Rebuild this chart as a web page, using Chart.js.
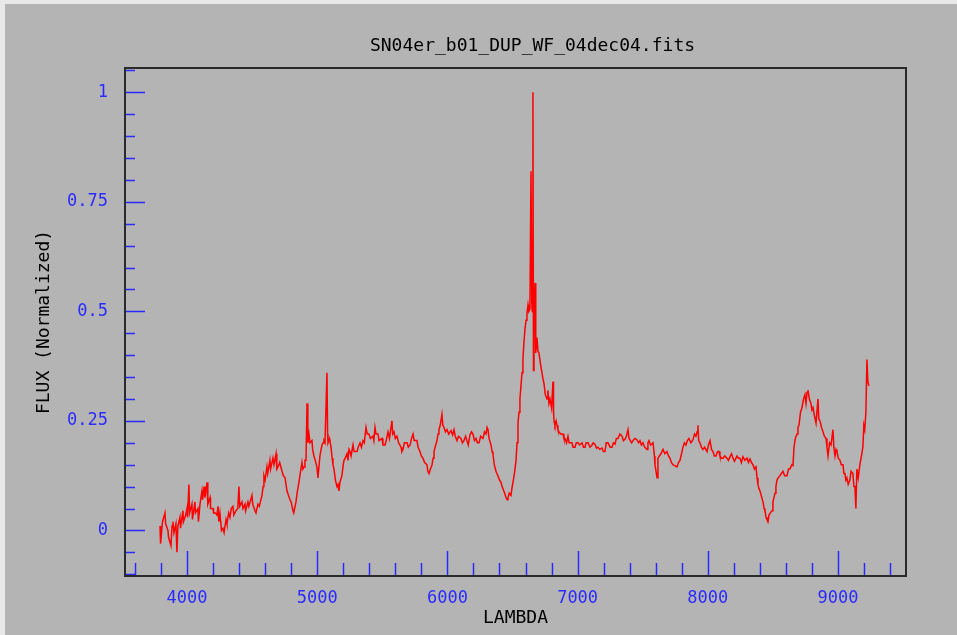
<!DOCTYPE html>
<html>
<head>
<meta charset="utf-8">
<script src="https://cdn.jsdelivr.net/npm/chart.js@4.4.1/dist/chart.umd.min.js"></script>
<style>
  html, body { margin: 0; padding: 0; background: #e8e8e8; overflow: hidden; }
  #panel { position: absolute; left: 5px; top: 4px; width: 952px; height: 631px; background: #b4b4b4; }
  canvas { display: block; }
</style>
</head>
<body>
<div id="panel"><canvas id="spec" width="952" height="631"></canvas></div>
<script>
// Spectrum: wavelength (Angstrom) and normalized flux
const wavelength = [
  3793,3797,3812,3831,3836,3854,3858,3877,3885,3892,3900,3915,3923,3930,3946,3950,3969,3973,3990,4000,
  4004,4015,4020,4038,4042,4061,4065,4084,4088,4100,4115,4120,4131,4138,4154,4160,4177,4181,4200,4204,
  4218,4230,4238,4245,4253,4265,4276,4285,4300,4307,4320,4330,4340,4353,4360,4376,4390,4399,4405,4422,
  4430,4445,4450,4468,4475,4499,4505,4522,4530,4545,4555,4576,4585,4591,4600,4614,4620,4637,4642,4660,
  4668,4684,4690,4699,4712,4730,4740,4753,4768,4780,4791,4800,4814,4820,4837,4848,4860,4870,4883,4890,
  4899,4906,4914,4922,4928,4937,4945,4960,4965,4975,4985,4998,5006,5012,5021,5030,5037,5045,5052,5060,
  5075,5080,5083,5095,5106,5115,5121,5129,5140,5152,5160,5167,5175,5190,5200,5206,5215,5229,5236,5244,
  5252,5260,5275,5283,5306,5315,5329,5340,5352,5362,5375,5385,5398,5408,5428,5435,5444,5452,5467,5475,
  5498,5505,5521,5530,5544,5555,5574,5580,5590,5600,5613,5625,5644,5650,5659,5670,5690,5700,5713,5725,
  5736,5745,5766,5775,5789,5800,5812,5825,5843,5850,5859,5870,5882,5890,5897,5910,5920,5928,5935,5945,
  5958,5965,5974,5985,5997,6010,6028,6040,6051,6060,6074,6085,6104,6115,6127,6140,6150,6160,6173,6185,
  6196,6208,6220,6230,6243,6255,6273,6285,6296,6305,6312,6320,6335,6343,6350,6360,6373,6380,6388,6400,
  6412,6420,6427,6440,6450,6458,6465,6475,6488,6495,6504,6515,6527,6535,6542,6550,6557,6565,6573,6580,
  6588,6596,6604,6611,6619,6625,6634,6642,6648,6652,6657,6661,6665,6673,6677,6680,6688,6695,6703,6715,
  6726,6735,6742,6752,6765,6772,6780,6788,6800,6811,6815,6819,6826,6835,6842,6849,6857,6870,6888,6895,
  6903,6915,6926,6935,6941,6957,6965,6980,6990,7003,7015,7034,7045,7057,7065,7080,7095,7110,7120,7133,
  7145,7156,7170,7187,7198,7210,7220,7233,7250,7264,7275,7287,7298,7310,7325,7341,7352,7364,7375,7387,
  7395,7402,7415,7425,7440,7456,7468,7479,7490,7502,7515,7533,7540,7548,7560,7579,7590,7594,7605,7610,
  7617,7628,7640,7648,7656,7670,7686,7698,7709,7720,7732,7745,7763,7775,7786,7798,7809,7820,7832,7843,
  7855,7870,7886,7898,7909,7918,7924,7930,7940,7950,7963,7975,7994,8005,8017,8028,8040,8050,8063,8075,
  8086,8093,8105,8116,8130,8147,8158,8170,8182,8193,8205,8224,8235,8247,8258,8270,8285,8301,8312,8324,
  8335,8347,8358,8370,8378,8385,8393,8401,8410,8424,8432,8439,8447,8454,8462,8470,8480,8493,8500,8508,
  8516,8523,8531,8540,8554,8565,8577,8590,8608,8620,8631,8645,8654,8662,8672,8685,8692,8700,8712,8723,
  8735,8746,8754,8762,8769,8780,8792,8800,8808,8820,8831,8846,8852,8862,8873,8885,8895,8908,8915,8923,
  8935,8946,8961,8968,8977,8985,8992,9002,9015,9025,9038,9045,9053,9060,9068,9078,9091,9100,9114,9122,
  9130,9137,9145,9155,9168,9180,9191,9198,9205,9214,9222,9229,9237
];
const flux = [
  0.010,-0.030,0.020,0.040,0.015,0.000,-0.015,-0.035,0.010,0.020,-0.005,0.015,-0.050,0.010,0.030,0.005,0.045,0.020,0.035,0.050,
  0.030,0.105,0.040,0.060,0.025,0.065,0.040,0.050,0.020,0.060,0.090,0.070,0.100,0.075,0.110,0.060,0.075,0.050,0.050,0.040,
  0.040,0.035,0.055,0.020,0.040,0.000,0.005,-0.005,0.025,0.015,0.040,0.030,0.050,0.055,0.035,0.045,0.050,0.100,0.055,0.065,
  0.050,0.060,0.045,0.065,0.055,0.080,0.060,0.045,0.040,0.060,0.055,0.080,0.100,0.125,0.115,0.145,0.130,0.160,0.140,0.165,
  0.150,0.175,0.140,0.145,0.155,0.135,0.125,0.120,0.090,0.080,0.070,0.065,0.045,0.040,0.065,0.090,0.110,0.130,0.155,0.140,
  0.145,0.160,0.160,0.290,0.200,0.220,0.200,0.205,0.185,0.170,0.160,0.145,0.120,0.140,0.170,0.185,0.195,0.200,0.205,0.200,
  0.360,0.220,0.200,0.210,0.190,0.165,0.150,0.140,0.115,0.100,0.105,0.090,0.110,0.125,0.150,0.160,0.165,0.175,0.160,0.185,
  0.180,0.170,0.195,0.180,0.180,0.190,0.200,0.190,0.205,0.200,0.235,0.220,0.220,0.210,0.215,0.205,0.235,0.220,0.220,0.205,
  0.210,0.195,0.195,0.205,0.225,0.210,0.250,0.220,0.225,0.210,0.215,0.200,0.190,0.180,0.185,0.200,0.200,0.190,0.195,0.210,
  0.220,0.205,0.205,0.190,0.180,0.170,0.165,0.155,0.150,0.135,0.130,0.140,0.150,0.165,0.180,0.195,0.205,0.220,0.230,0.240,
  0.265,0.240,0.235,0.225,0.230,0.220,0.228,0.218,0.230,0.215,0.205,0.215,0.210,0.200,0.205,0.215,0.205,0.195,0.218,0.225,
  0.220,0.205,0.210,0.200,0.200,0.215,0.210,0.225,0.220,0.235,0.230,0.210,0.195,0.180,0.175,0.150,0.135,0.130,0.125,0.115,
  0.110,0.100,0.100,0.085,0.075,0.070,0.075,0.085,0.080,0.095,0.110,0.130,0.160,0.200,0.245,0.270,0.300,0.330,0.360,0.390,
  0.430,0.460,0.480,0.495,0.515,0.500,0.505,0.820,0.520,0.500,1.000,0.365,0.495,0.565,0.420,0.405,0.440,0.410,0.405,0.380,
  0.360,0.345,0.335,0.310,0.300,0.320,0.290,0.300,0.280,0.340,0.270,0.250,0.240,0.250,0.240,0.230,0.225,0.220,0.220,0.210,
  0.210,0.200,0.215,0.200,0.200,0.200,0.190,0.190,0.200,0.200,0.195,0.200,0.190,0.190,0.200,0.200,0.190,0.195,0.200,0.197,
  0.188,0.190,0.185,0.188,0.180,0.180,0.200,0.200,0.190,0.190,0.200,0.197,0.210,0.210,0.220,0.215,0.205,0.208,0.215,0.230,
  0.210,0.210,0.200,0.205,0.210,0.207,0.200,0.205,0.195,0.200,0.190,0.185,0.200,0.205,0.195,0.200,0.170,0.150,0.130,0.120,
  0.165,0.170,0.175,0.180,0.185,0.175,0.180,0.170,0.165,0.155,0.150,0.148,0.145,0.155,0.160,0.175,0.190,0.200,0.195,0.205,
  0.210,0.200,0.207,0.220,0.215,0.225,0.240,0.205,0.200,0.190,0.185,0.190,0.180,0.195,0.205,0.185,0.180,0.170,0.170,0.180,
  0.180,0.170,0.165,0.165,0.170,0.165,0.160,0.168,0.175,0.165,0.158,0.170,0.165,0.165,0.155,0.168,0.160,0.165,0.155,0.163,
  0.155,0.150,0.140,0.145,0.120,0.105,0.095,0.090,0.080,0.065,0.050,0.045,0.030,0.025,0.020,0.035,0.040,0.045,0.065,0.075,
  0.085,0.100,0.115,0.120,0.125,0.130,0.135,0.125,0.125,0.140,0.140,0.150,0.148,0.190,0.210,0.220,0.235,0.240,0.270,0.280,
  0.300,0.310,0.290,0.315,0.320,0.300,0.290,0.275,0.280,0.260,0.245,0.300,0.255,0.250,0.235,0.225,0.215,0.210,0.190,0.170,
  0.200,0.195,0.230,0.190,0.170,0.185,0.180,0.165,0.160,0.150,0.150,0.130,0.130,0.115,0.120,0.105,0.115,0.135,0.130,0.100,
  0.100,0.050,0.140,0.120,0.150,0.170,0.190,0.240,0.230,0.270,0.390,0.340,0.330
];

// Axis ranges and tick labels
const xRange = [3524, 9522];
const yRange = [-0.104, 1.0555];
const xTickValues = [4000, 5000, 6000, 7000, 8000, 9000];
const yTickValues = [0, 0.25, 0.5, 0.75, 1];
const yTickLabels = ['0', '0.25', '0.5', '0.75', '1'];
const xMinorStep = 200;
const yMinorStep = 0.05;

const chartTitle = 'SN04er_b01_DUP_WF_04dec04.fits';
const xTitle = 'LAMBDA';
const yTitle = 'FLUX (Normalized)';

const MONO = '"DejaVu Sans Mono", "Liberation Mono", monospace';
const TICK_BLUE = '#2b2bff';

// Inward tick marks (major + minor) along the left and bottom axes,
// the closed frame around the plot area, and the file-name title
const frameAndTicks = {
  id: 'frameAndTicks',
  beforeDatasetsDraw(chart) {
    const { ctx, chartArea: a, scales: { x, y } } = chart;
    ctx.save();
    ctx.strokeStyle = TICK_BLUE;
    ctx.lineWidth = 1.5;
    ctx.beginPath();
    for (let v = -0.1; v <= yRange[1] + 1e-9; v += yMinorStep) {
      const vv = Math.round(v * 100) / 100;
      const isMajor = yTickValues.some(t => Math.abs(t - vv) < 1e-6);
      const py = Math.round(y.getPixelForValue(vv)) + 0.5;
      ctx.moveTo(a.left, py);
      ctx.lineTo(a.left + (isMajor ? 20 : 10), py);
    }
    for (let v = 3600; v <= xRange[1]; v += xMinorStep) {
      const isMajor = xTickValues.includes(v);
      const px = Math.round(x.getPixelForValue(v)) + 0.5;
      ctx.moveTo(px, a.bottom);
      ctx.lineTo(px, a.bottom - (isMajor ? 25 : 13));
    }
    ctx.stroke();
    ctx.restore();
  },
  afterDraw(chart) {
    const { ctx, chartArea: a } = chart;
    ctx.save();
    ctx.strokeStyle = '#2a2a2a';
    ctx.lineWidth = 2;
    ctx.strokeRect(a.left, a.top, a.right - a.left, a.bottom - a.top);
    ctx.fillStyle = '#000';
    ctx.font = '18px ' + MONO;
    ctx.textAlign = 'center';
    ctx.textBaseline = 'middle';
    ctx.fillText(chartTitle, (a.left + a.right) / 2 + 17, 42);
    ctx.restore();
  }
};

new Chart(document.getElementById('spec').getContext('2d'), {
  type: 'line',
  data: {
    datasets: [{
      data: wavelength.map((w, i) => ({ x: w, y: flux[i] })),
      borderColor: '#ff0000',
      borderWidth: 1.5,
      pointRadius: 0,
      tension: 0,
      fill: false
    }]
  },
  options: {
    responsive: false,
    animation: false,
    events: [],
    layout: { padding: { top: 64, right: 51, bottom: 0, left: 0 } },
    plugins: { legend: { display: false }, tooltip: { enabled: false }, title: { display: false } },
    scales: {
      x: {
        type: 'linear',
        min: xRange[0],
        max: xRange[1],
        afterBuildTicks(s) { s.ticks = xTickValues.map(v => ({ value: v })); },
        afterFit(s) { s.height = 59; },
        grid: { display: false, drawTicks: false },
        border: { display: false },
        ticks: {
          color: TICK_BLUE,
          font: { family: MONO, size: 17 },
          padding: 12,
          maxRotation: 0,
          autoSkip: false,
          callback: v => String(v)
        },
        title: {
          display: true,
          text: xTitle,
          color: '#000',
          font: { family: MONO, size: 18 },
          padding: { top: 0, bottom: 6 }
        }
      },
      y: {
        type: 'linear',
        min: yRange[0],
        max: yRange[1],
        afterBuildTicks(s) { s.ticks = yTickValues.map(v => ({ value: v })); },
        afterFit(s) { s.width = 120; },
        grid: { display: false, drawTicks: false },
        border: { display: false },
        ticks: {
          color: TICK_BLUE,
          font: { family: MONO, size: 17 },
          padding: 17,
          autoSkip: false,
          callback: v => yTickLabels[yTickValues.indexOf(v)] ?? ''
        },
        title: {
          display: true,
          text: yTitle,
          color: '#000',
          font: { family: MONO, size: 18 },
          padding: { top: 29, bottom: 0 }
        }
      }
    }
  },
  plugins: [frameAndTicks]
});
</script>
</body>
</html>
